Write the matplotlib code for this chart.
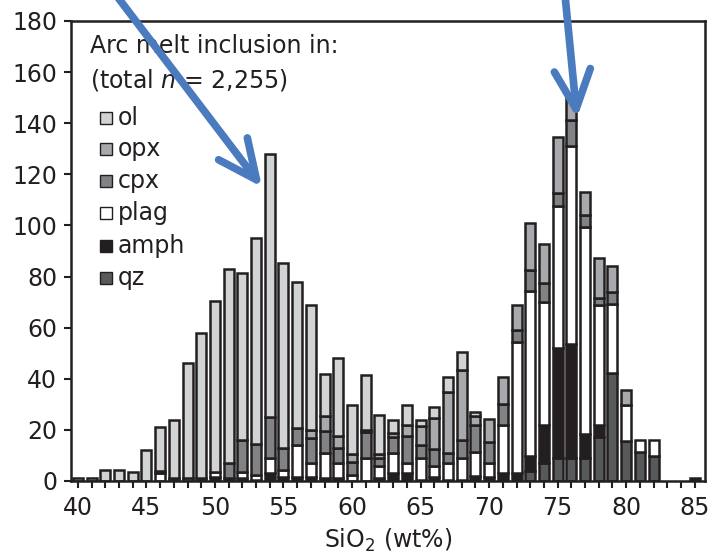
import numpy as np
import matplotlib
matplotlib.use("Agg")
import matplotlib.pyplot as plt
from matplotlib.patches import Rectangle

plt.rcParams['font.family'] = ['DejaVu Sans']
plt.rcParams['mathtext.fontset'] = 'dejavusans'

# SiO2 bins (wt%), 1 wt% wide
sio2 = np.arange(40, 86)

# counts per host mineral (bins 40..85)
qz = [0, 0, 0, 0, 0, 0, 0, 0, 0, 0,
      0, 0, 0, 0, 0, 0, 0, 0, 0, 0,
      0, 0, 0, 0, 0, 0, 0, 0, 0, 0,
      0, 0, 0, 4, 6.9, 8.9, 8.9, 8.9, 17.3, 42.3,
      15.7, 11.5, 9.8, 0, 0, 0]
amph = [0, 0, 0, 0, 0, 0, 0, 1, 0, 1,
        1.4, 1, 1, 0.5, 3, 1.5, 1.5, 1.5, 1, 1,
        0, 0, 1, 3.3, 3, 0.5, 1.5, 0.5, 0.5, 2,
        1.5, 3, 3, 5.8, 15, 43.3, 44.6, 9.5, 4.6, 0,
        0, 0, 0, 0, 0, 1]
plag = [0, 0, 0, 0, 0, 0, 3, 0, 1, 0,
        2.2, 0, 2.7, 2, 6, 2.8, 12.5, 5.5, 10, 6,
        2.3, 9, 5, 7.8, 4, 8.5, 4.5, 6.5, 8.4, 9.5,
        5.4, 19, 51.4, 64.5, 48.1, 55.6, 77.7, 80.9, 46.8, 27.1,
        14, 4.5, 6.2, 0, 0, 0]
cpx = [0, 0, 0, 0, 0, 0, 1, 0, 0, 0,
       0, 6, 12.5, 12, 16, 8.6, 6.7, 9.8, 8.5, 6,
       5.2, 10, 3, 6.2, 10.5, 5, 6.5, 4, 7, 10.5,
       8.5, 8, 4.8, 8.1, 7.4, 4.8, 10, 4.6, 3, 4.5,
       0, 0, 0, 0, 0, 0]
opx = [0, 0, 0, 0, 0, 0, 0, 0, 0, 0,
       0, 0, 0, 0, 0, 0, 0, 3.1, 6, 4.5,
       3, 1, 1.5, 1.6, 4.5, 7.5, 12, 24, 27.5, 3.5,
       9, 10.7, 9.5, 18.5, 15.4, 21.9, 9.5, 9.3, 15.5, 10.2,
       6.1, 0, 0, 0, 0, 0]
ol = [1, 1, 4.5, 4.5, 3.5, 12, 17, 23, 45, 57,
      67, 76, 65, 80.5, 103, 72.5, 57, 49, 16.5, 30.5,
      19.2, 21.5, 15.5, 4.9, 7.7, 2.3, 4.5, 5.7, 7, 1.5,
      0, 0, 0, 0, 0, 0, 0, 0, 0, 0,
      0, 0, 0, 0, 0, 0]

# stacking order bottom -> top
series = [('qz', qz, '#58595b'),
          ('amph', amph, '#231f20'),
          ('plag', plag, '#ffffff'),
          ('cpx', cpx, '#808285'),
          ('opx', opx, '#a7a9ac'),
          ('ol', ol, '#d1d3d4')]

ink = '#231f20'

fig = plt.figure(figsize=(7.15, 5.6), dpi=100)
ax = fig.add_axes([71/715, 79/560, 634/715, 460/560])

bottom = np.zeros(len(sio2))
for name, vals, col in series:
    vals = np.array(vals, dtype=float)
    m = vals > 0
    ax.bar(sio2[m], vals[m], width=0.73, bottom=bottom[m], color=col,
           edgecolor=ink, linewidth=1.8, zorder=2)
    bottom += vals

ax.set_xlim(39.5, 85.75)
ax.set_ylim(0, 180)
ax.set_xticks(np.arange(40, 86, 5))
ax.set_xticks(np.arange(40, 86, 1), minor=True)
ax.set_yticks(np.arange(0, 181, 20))
ax.tick_params(axis='both', which='both', direction='out', color=ink,
               width=1.5, labelsize=17, labelcolor=ink)
ax.tick_params(axis='x', which='both', length=5, pad=6)
ax.tick_params(axis='y', length=5, pad=5)
for s in ax.spines.values():
    s.set_linewidth(1.8)
    s.set_color(ink)
ax.set_xlabel('SiO$_2$ (wt%)', fontsize=17, color=ink, labelpad=5)

# legend block
ax.text(0.030, 0.946, 'Arc melt inclusion in:', transform=ax.transAxes,
        fontsize=17, color=ink, va='center', ha='left')
ax.text(0.030, 0.872, '(total $n$ = 2,255)', transform=ax.transAxes,
        fontsize=17, color=ink, va='center', ha='left')
rows = [118, 149, 181, 213, 246, 278]
for (name, vals, col), yp in zip(series[::-1], rows):
    yf = (481 - yp) / 460
    ax.add_patch(Rectangle((0.0457, yf - 0.013), 0.019, 0.026,
                           transform=ax.transAxes, facecolor=col,
                           edgecolor=ink, linewidth=1.0, zorder=3))
    ax.text(0.074, yf, name, transform=ax.transAxes, fontsize=17,
            color=ink, va='center', ha='left')

# blue arrows pointing at the two modes
arrow_kw = dict(arrowstyle='->, head_length=1.4, head_width=0.65',
                color='#4a7bbf', lw=5.5, mutation_scale=20,
                shrinkA=0, shrinkB=0, capstyle='round')
ax.annotate('', xy=(262, 560 - 187), xycoords='figure pixels',
            xytext=(116, 565), textcoords='figure pixels',
            arrowprops=arrow_kw, annotation_clip=False)
ax.annotate('', xy=(577, 560 - 118), xycoords='figure pixels',
            xytext=(565, 565), textcoords='figure pixels',
            arrowprops=arrow_kw, annotation_clip=False)

fig.savefig('out.png', dpi=100)
